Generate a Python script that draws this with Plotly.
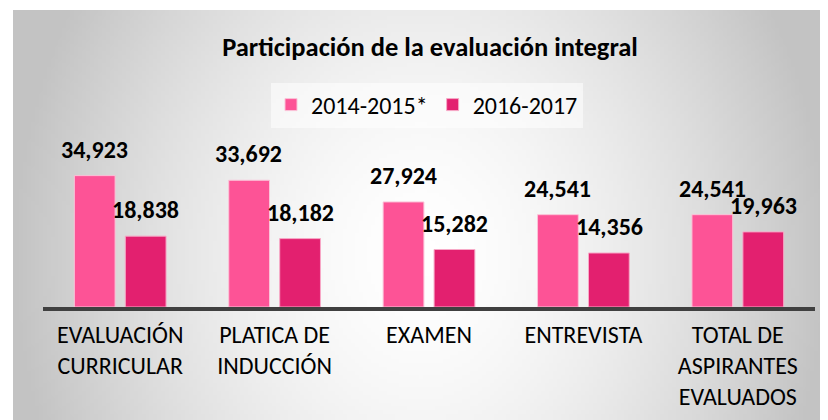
import base64, struct, zlib
import plotly.graph_objects as go

categories = ["EVALUACIÓN<br>CURRICULAR", "PLATICA DE<br>INDUCCIÓN", "EXAMEN",
              "ENTREVISTA", "TOTAL DE<br>ASPIRANTES<br>EVALUADOS"]
series_2014 = [34923, 33692, 27924, 24541, 24541]
series_2016 = [18838, 18182, 15282, 14356, 19963]
series_names = ["2014-2015*", "2016-2017"]
title_text = "Participación de la evaluación integral"

FONT = "Carlito, Calibri, Lato, sans-serif"
C1 = "#FD5396"
C2 = "#E3206F"

# page body has an 8px margin: the figure is placed at (8, 8)
OFF = 8

def make_bg(w=206, h=104):
    rows = []
    cx, cy = w * 0.5, h * 0.6
    for j in range(h):
        row = bytearray([0])
        for i in range(w):
            dx = (i + 0.5 - cx) / (w / 2)
            dy = (j + 0.5 - cy) / (h * 1.2)
            t = min(1.0, (dx * dx + dy * dy) ** 0.5)
            v = int(round(255 - 60 * t ** 1.6))
            row += bytes([v, v, v])
        rows.append(bytes(row))
    raw = b"".join(rows)
    def chunk(tag, data):
        c = struct.pack(">I", len(data)) + tag + data
        return c + struct.pack(">I", zlib.crc32(tag + data) & 0xffffffff)
    png = b"\x89PNG\r\n\x1a\n" + chunk(b"IHDR", struct.pack(">IIBBBBB", w, h, 8, 2, 0, 0, 0)) \
        + chunk(b"IDAT", zlib.compress(raw, 9)) + chunk(b"IEND", b"")
    return "data:image/png;base64," + base64.b64encode(png).decode()

W, H = 828 - OFF, 420 - OFF
ML, MR, MT, MB = 43 - OFF, 13, 149 - OFF, 113
PW, PH = W - ML - MR, H - MT - MB

fig = go.Figure()
fig.add_trace(go.Bar(x=categories, y=series_2014, name=series_names[0],
                     marker=dict(color=C1, line=dict(color="#FBC3D8", width=1))))
fig.add_trace(go.Bar(x=categories, y=series_2016, name=series_names[1],
                     marker=dict(color=C2, line=dict(color="#F7A9C7", width=1))))

annotations = []
for vals, sh in [(series_2014, -25.7), (series_2016, 25.7)]:
    for c, v in zip(categories, vals):
        annotations.append(dict(x=c, y=v, xref="x", yref="y", text=f"{v:,}",
                                showarrow=False, xshift=sh, yshift=10,
                                yanchor="bottom",
                                font=dict(family=FONT, size=24, color="#000000", weight="bold")))

fig.update_layout(
    width=W, height=H,
    margin=dict(l=ML, r=MR, t=MT, b=MB, autoexpand=False),
    paper_bgcolor="white",
    plot_bgcolor="rgba(0,0,0,0)",
    barmode="group", bargap=0.34, bargroupgap=0.2,
    title=dict(text=f"<b>{title_text}</b>", x=(430 - OFF) / W, xref="container", xanchor="center",
               y=1 - (47 - OFF) / H, yref="container", yanchor="middle",
               font=dict(family=FONT, size=26.5, color="#000000")),
    legend=dict(orientation="h", x=(427 - ML - OFF) / PW, xanchor="center",
                y=(H - MB - (105 - OFF)) / PH, yanchor="middle",
                bgcolor="rgba(255,255,255,0.55)",
                font=dict(family=FONT, size=24, color="#000000"),
                itemwidth=30, traceorder="normal"),
    xaxis=dict(showline=True, linecolor="#404040", linewidth=4, showgrid=False,
               ticks="", ticklabelstandoff=3, automargin=False,
               tickfont=dict(family=FONT, size=24, color="#000000")),
    yaxis=dict(range=[0, 42000], visible=False, showgrid=False, zeroline=False,
               automargin=False),
    annotations=annotations,
    images=[dict(source=make_bg(), xref="paper", yref="paper",
                 x=(13 - OFF - ML) / PW, y=(H - MB - (10 - OFF)) / PH,
                 sizex=(W - (13 - OFF)) / PW, sizey=(H - (10 - OFF)) / PH,
                 sizing="stretch", xanchor="left", yanchor="top", layer="below")],
    showlegend=True,
)

fig.write_html("out.html")
